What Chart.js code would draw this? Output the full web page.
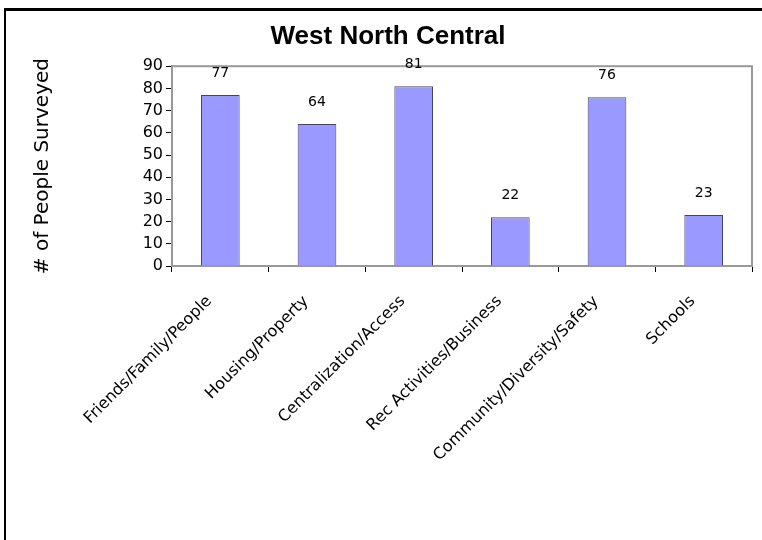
<!DOCTYPE html>
<html>
<head>
<meta charset="utf-8">
<script src="https://cdn.jsdelivr.net/npm/chart.js@4/dist/chart.umd.min.js"></script>
<style>
    html, body { margin: 0; padding: 0; background: #fff; overflow: hidden; }
    #wrap { position: relative; width: 762px; height: 540px; }
    #frame {
        position: absolute; left: 4px; top: 8px; width: 756px; height: 540px;
        border-left: 2px solid #000; border-top: 3px solid #000;
    }
    #chart { position: absolute; left: 0; top: 0; }
</style>
</head>
<body>
<div id="wrap">
    <div id="frame"></div>
    <canvas id="chart" width="762" height="540"></canvas>
</div>
<script>
// ========== DATA ==========
const categories = [
    'Friends/Family/People',
    'Housing/Property',
    'Centralization/Access',
    'Rec Activities/Business',
    'Community/Diversity/Safety',
    'Schools'
];
const surveyed = [77, 64, 81, 22, 76, 23];
const chartTitle = 'West North Central';
const yTitle = '# of People Surveyed';

const LABEL_FONT = "'DejaVu Sans', sans-serif";

// gray box around the plot (top/right), axes drawn over it
const plotBox = {
    id: 'plotBox',
    beforeDatasetsDraw(chart) {
        const { ctx, chartArea: a } = chart;
        ctx.save();
        ctx.strokeStyle = '#999999';
        ctx.lineWidth = 2;
        ctx.strokeRect(a.left, a.top, a.right - a.left, a.bottom - a.top);
        ctx.restore();
    }
};

// value labels above bars
const valueLabels = {
    id: 'valueLabels',
    afterDatasetsDraw(chart) {
        const ctx = chart.ctx;
        const meta = chart.getDatasetMeta(0);
        ctx.save();
        ctx.font = '14px ' + LABEL_FONT;
        ctx.fillStyle = '#000';
        ctx.textAlign = 'center';
        ctx.textBaseline = 'middle';
        meta.data.forEach((bar, i) => {
            ctx.fillText(String(surveyed[i]), bar.x, bar.y - 22);
        });
        ctx.restore();
    }
};

new Chart(document.getElementById('chart').getContext('2d'), {
    type: 'bar',
    data: {
        labels: categories,
        datasets: [{
            data: surveyed,
            backgroundColor: '#9999ff',
            borderColor: '#44446a',
            borderWidth: 1,
            categoryPercentage: 0.8,
            barPercentage: 0.5
        }]
    },
    options: {
        responsive: false,
        animation: false,
        layout: { padding: { left: 24, right: 10, top: 0, bottom: 0 } },
        plugins: {
            legend: { display: false },
            tooltip: { enabled: false },
            title: {
                display: true,
                text: chartTitle,
                color: '#000',
                font: { family: "'Liberation Sans', Arial, sans-serif", size: 26, weight: 'bold' },
                padding: { top: 21, bottom: 14 }
            }
        },
        scales: {
            x: {
                grid: {
                    drawOnChartArea: false,
                    tickLength: 6,
                    tickColor: '#000',
                    offset: true
                },
                border: { color: '#000', width: 1.5 },
                ticks: {
                    color: '#000',
                    font: { family: LABEL_FONT, size: 16 },
                    minRotation: 45,
                    maxRotation: 45,
                    padding: 20,
                    labelOffset: -11
                },
                afterFit(scale) { scale.height = 274; }
            },
            y: {
                min: 0,
                max: 90,
                grid: {
                    drawOnChartArea: false,
                    tickLength: 6,
                    tickColor: '#000'
                },
                border: { color: '#000', width: 1.5 },
                ticks: {
                    stepSize: 10,
                    color: '#000',
                    font: { family: LABEL_FONT, size: 16 },
                    padding: 3
                },
                title: {
                    display: true,
                    text: yTitle,
                    color: '#000',
                    font: { family: LABEL_FONT, size: 20 },
                    padding: { top: 7, bottom: 0 }
                },
                afterFit(scale) { scale.width = 148; }
            }
        }
    },
    plugins: [plotBox, valueLabels]
});
</script>
</body>
</html>
